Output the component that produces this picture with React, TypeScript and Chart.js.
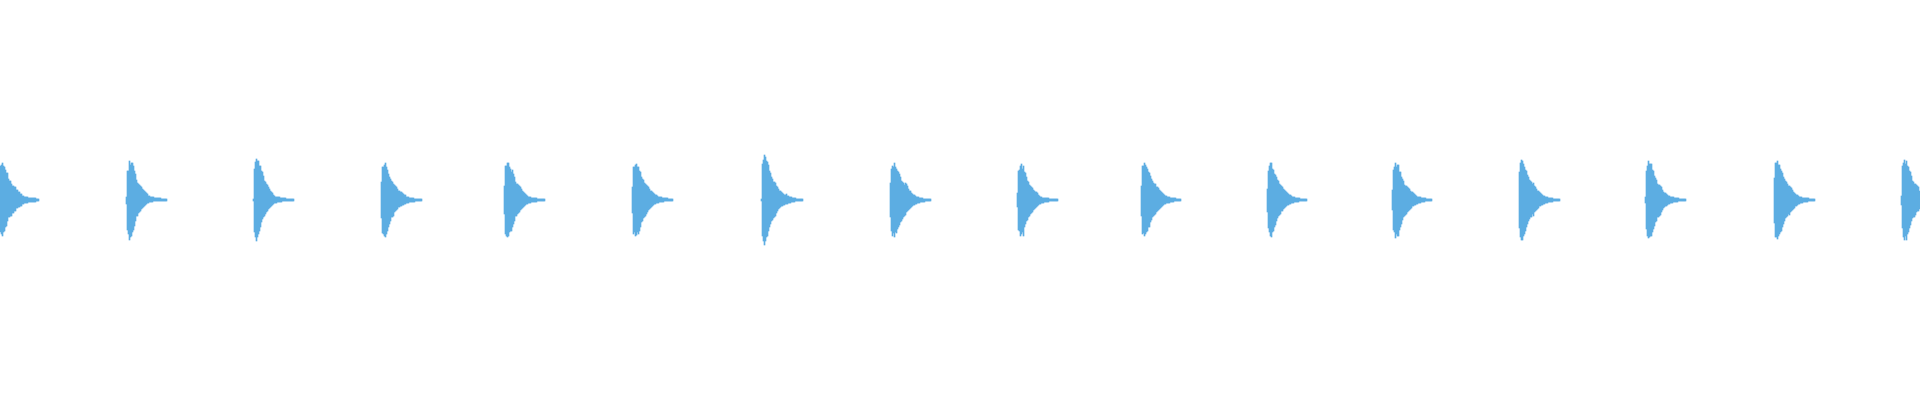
import React, { useRef, useEffect } from 'react';
import { Chart, registerables } from 'chart.js';

Chart.register(...registerables);

// one bar per pixel column of the waveform
const BIN_COUNT = 1920;

// column where each click/hit begins
const burstStarts = [0, 126, 253, 381, 504, 632, 761, 890, 1017, 1141, 1267, 1392, 1519, 1645, 1774, 1901];

// positive peak per column, for each burst
const burstUpper = [
  [34, 35, 37, 34, 33, 30, 27, 27, 21, 19, 19, 16, 14, 14, 13, 13, 10, 10, 8, 8, 6, 6, 4, 4, 3, 3, 3, 3, 2, 2, 2, 2, 2, 2, 2, 2, 1, 1, 1],
  [3, 29, 29, 39, 35, 37, 37, 34, 29, 26, 20, 17, 16, 15, 14, 13, 11, 10, 9, 8, 7, 6, 4, 4, 3, 3, 3, 3, 2, 2, 2, 2, 2, 2, 2, 1, 1, 1, 1, 1, 1],
  [1, 31, 38, 41, 39, 39, 34, 34, 29, 28, 24, 19, 18, 16, 15, 13, 11, 9, 8, 7, 5, 4, 3, 3, 3, 3, 3, 2, 2, 2, 2, 2, 2, 1, 1, 1, 1, 1, 1, 1, 1],
  [18, 33, 33, 35, 37, 33, 30, 26, 23, 21, 19, 18, 16, 15, 14, 13, 11, 9, 9, 8, 8, 7, 6, 5, 5, 3, 3, 3, 2, 2, 2, 2, 2, 1, 1, 1, 1, 1, 1, 1, 1],
  [14, 34, 34, 37, 37, 33, 31, 28, 30, 26, 23, 18, 16, 16, 15, 14, 13, 11, 9, 8, 7, 6, 5, 4, 3, 3, 3, 2, 2, 2, 2, 2, 2, 1, 1, 1, 1, 1, 1, 1, 1],
  [13, 33, 33, 35, 36, 33, 33, 29, 28, 23, 21, 20, 17, 16, 15, 14, 13, 11, 9, 9, 8, 7, 6, 5, 5, 4, 3, 3, 3, 3, 2, 2, 2, 2, 2, 2, 1, 1, 1, 1, 1],
  [1, 36, 40, 45, 43, 39, 38, 35, 29, 27, 23, 21, 18, 18, 17, 14, 13, 11, 9, 9, 8, 7, 6, 5, 5, 6, 4, 4, 3, 3, 3, 2, 2, 2, 2, 1, 1, 1, 1, 1, 1, 1],
  [17, 31, 34, 33, 37, 33, 31, 29, 28, 26, 23, 19, 18, 17, 15, 17, 16, 14, 11, 9, 9, 7, 6, 5, 5, 4, 3, 3, 3, 2, 2, 2, 2, 1, 1, 1, 1, 1, 1, 1, 1],
  [7, 29, 30, 34, 36, 31, 34, 28, 27, 23, 19, 18, 15, 14, 13, 12, 10, 9, 8, 8, 7, 5, 4, 3, 3, 2, 2, 2, 2, 2, 2, 2, 1, 1, 1, 1, 1, 1, 1, 1, 1],
  [14, 34, 34, 37, 35, 33, 31, 28, 27, 24, 21, 19, 17, 16, 16, 13, 13, 12, 10, 9, 8, 7, 6, 5, 4, 4, 3, 3, 3, 2, 2, 2, 2, 2, 2, 1, 1, 1, 1, 1],
  [11, 29, 34, 37, 37, 31, 30, 26, 25, 23, 20, 19, 16, 15, 14, 13, 11, 10, 9, 8, 7, 6, 5, 5, 4, 3, 3, 3, 2, 2, 2, 2, 2, 1, 1, 1, 1, 1, 1, 1],
  [10, 30, 33, 37, 33, 35, 35, 28, 28, 23, 21, 19, 15, 14, 14, 13, 12, 11, 9, 8, 8, 7, 6, 5, 4, 3, 3, 3, 3, 2, 2, 2, 2, 2, 1, 1, 1, 1, 1, 1],
  [28, 37, 40, 39, 36, 33, 30, 29, 25, 23, 20, 19, 18, 16, 17, 14, 13, 11, 9, 9, 8, 7, 6, 5, 4, 4, 3, 3, 3, 2, 2, 2, 2, 2, 1, 1, 1, 1, 1, 1, 1],
  [3, 29, 34, 39, 36, 36, 36, 30, 29, 24, 22, 20, 16, 15, 15, 14, 13, 10, 8, 7, 7, 6, 5, 4, 4, 3, 3, 3, 3, 2, 2, 2, 2, 2, 1, 1, 1, 1, 1, 1, 1],
  [22, 37, 37, 39, 35, 35, 31, 29, 27, 23, 21, 19, 18, 16, 14, 14, 13, 12, 10, 8, 7, 6, 5, 5, 4, 3, 3, 3, 2, 2, 2, 2, 2, 2, 2, 1, 1, 1, 1, 1, 1],
  [4, 34, 37, 40, 36, 39, 34, 33, 29, 28, 24, 19, 18, 16, 16, 15, 14, 13, 9],
];

// negative peak (magnitude) per column, for each burst
const burstLower = [
  [32, 34, 36, 32, 31, 27, 26, 21, 17, 17, 16, 16, 13, 13, 11, 11, 8, 8, 7, 7, 6, 6, 4, 4, 3, 3, 3, 3, 2, 2, 2, 2, 2, 2, 2, 2, 1, 1, 1],
  [4, 30, 34, 40, 37, 36, 32, 30, 26, 21, 16, 16, 13, 12, 11, 9, 8, 7, 6, 5, 4, 3, 3, 2, 2, 2, 2, 1, 1, 1, 1, 1, 1, 1, 1, 1, 1, 1, 1, 1, 1],
  [1, 32, 37, 41, 37, 34, 31, 27, 22, 19, 17, 16, 14, 12, 11, 9, 8, 7, 6, 5, 4, 3, 3, 3, 2, 2, 2, 2, 2, 1, 1, 1, 1, 1, 1, 1, 1, 1, 1, 1, 1],
  [18, 33, 34, 36, 37, 34, 31, 27, 24, 21, 17, 17, 16, 12, 11, 10, 9, 7, 7, 6, 6, 5, 5, 4, 4, 3, 3, 3, 2, 2, 2, 2, 2, 2, 1, 1, 1, 1, 1, 1, 1],
  [14, 34, 36, 37, 36, 32, 31, 31, 27, 24, 21, 16, 16, 14, 13, 12, 10, 9, 8, 7, 6, 5, 4, 4, 3, 3, 3, 2, 2, 2, 2, 2, 2, 1, 1, 1, 1, 1, 1, 1, 1],
  [13, 34, 32, 36, 35, 32, 34, 31, 27, 22, 21, 18, 17, 16, 14, 12, 10, 9, 8, 7, 6, 5, 4, 4, 3, 3, 3, 2, 2, 2, 2, 2, 1, 1, 1, 1, 1, 1, 1, 1, 1],
  [1, 36, 41, 45, 41, 37, 36, 31, 27, 24, 21, 20, 18, 17, 16, 13, 11, 9, 8, 7, 6, 6, 5, 5, 4, 4, 4, 3, 3, 3, 2, 2, 2, 2, 1, 1, 1, 1, 1, 1, 1, 1],
  [17, 31, 36, 33, 37, 32, 33, 29, 27, 25, 22, 21, 19, 17, 16, 15, 12, 11, 10, 9, 8, 7, 6, 5, 5, 4, 4, 3, 3, 3, 2, 2, 2, 2, 2, 1, 1, 1, 1, 1, 1],
  [7, 30, 31, 36, 34, 32, 36, 27, 24, 21, 20, 17, 16, 14, 13, 12, 10, 9, 8, 7, 6, 5, 4, 4, 3, 3, 3, 2, 2, 2, 2, 2, 1, 1, 1, 1, 1, 1, 1, 1, 1],
  [16, 34, 33, 36, 34, 32, 31, 27, 27, 22, 20, 17, 16, 15, 14, 12, 11, 10, 9, 8, 7, 6, 5, 4, 4, 3, 3, 3, 3, 2, 2, 2, 2, 1, 1, 1, 1, 1, 1, 1],
  [12, 28, 32, 36, 37, 32, 31, 27, 25, 21, 18, 16, 15, 14, 11, 11, 9, 8, 7, 6, 5, 5, 4, 4, 3, 3, 3, 2, 2, 2, 2, 2, 1, 1, 1, 1, 1, 1, 1, 1],
  [10, 30, 32, 38, 34, 36, 36, 30, 27, 24, 20, 17, 16, 15, 14, 12, 11, 10, 9, 8, 6, 6, 5, 5, 4, 4, 3, 3, 3, 2, 2, 2, 2, 1, 1, 1, 1, 1, 1, 1],
  [28, 37, 40, 40, 36, 34, 31, 27, 24, 21, 19, 17, 17, 14, 16, 12, 11, 10, 9, 8, 6, 6, 5, 5, 4, 4, 3, 3, 3, 2, 2, 2, 2, 2, 1, 1, 1, 1, 1, 1, 1],
  [3, 29, 36, 38, 37, 36, 36, 32, 29, 26, 22, 21, 17, 17, 16, 15, 12, 10, 8, 7, 6, 6, 5, 4, 4, 3, 3, 3, 2, 2, 2, 2, 2, 1, 1, 1, 1, 1, 1, 1, 1],
  [23, 37, 37, 39, 36, 34, 32, 31, 27, 24, 21, 18, 17, 16, 14, 15, 12, 11, 10, 9, 8, 6, 6, 5, 4, 4, 3, 3, 3, 2, 2, 2, 2, 2, 1, 1, 1, 1, 1, 1, 1],
  [5, 28, 37, 40, 36, 40, 34, 32, 28, 25, 21, 18, 17, 17, 15, 12, 11, 11, 9],
];

const WAVE_COLOR = '#5dade2';

const Waveform: React.FC = () => {
  const canvasRef = useRef<HTMLCanvasElement | null>(null);

  useEffect(() => {
    if (!canvasRef.current) return;
    const ctx = canvasRef.current.getContext('2d');
    if (!ctx) return;

    const labels = Array.from({ length: BIN_COUNT }, (_, i) => i);
    const bins: ([number, number] | null)[] = new Array(BIN_COUNT).fill(null);
    burstStarts.forEach((start, b) => {
      burstUpper[b].forEach((hi, j) => {
        const idx = start + j;
        if (idx < 0 || idx >= BIN_COUNT) return;
        bins[idx] = [-burstLower[b][j], hi];
      });
    });

    const chart = new Chart(ctx, {
      type: 'bar',
      data: {
        labels,
        datasets: [
          {
            data: bins as any,
            backgroundColor: WAVE_COLOR,
            borderWidth: 0,
            barPercentage: 1,
            categoryPercentage: 1,
          },
        ],
      },
      options: {
        responsive: false,
        animation: false,
        layout: { padding: 0 },
        plugins: {
          legend: { display: false },
          tooltip: { enabled: false },
        },
        scales: {
          x: { display: false, grid: { display: false } },
          y: { display: false, min: -200, max: 200, grid: { display: false } },
        },
      },
    });
    return () => chart.destroy();
  }, []);

  return <canvas ref={canvasRef} width={1920} height={400} style={{ display: 'block' }} />;
};

export default function App() {
  useEffect(() => {
    document.body.style.margin = '0';
  }, []);
  return (
    <div style={{ width: 1920, height: 400, background: '#ffffff' }}>
      <Waveform />
    </div>
  );
}
